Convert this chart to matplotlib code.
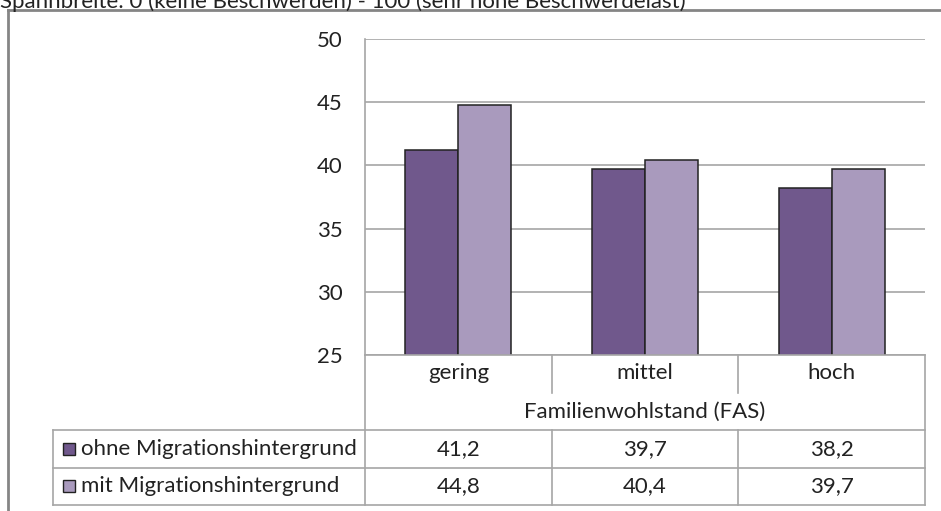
import matplotlib

matplotlib.use("Agg")
import matplotlib.pyplot as plt
import numpy as np

plt.rcParams["font.family"] = ["Lato", "DejaVu Sans"]

# data
categories = ["gering", "mittel", "hoch"]
series_names = ["ohne Migrationshintergrund", "mit Migrationshintergrund"]
ohne = [41.2, 39.7, 38.2]
mit = [44.8, 40.4, 39.7]
yticks = [25, 30, 35, 40, 45, 50]
axis_title = "Familienwohlstand (FAS)"
top_note = "Spannbreite: 0 (keine Beschwerden) - 100 (sehr hohe Beschwerdelast)"

colors = ["#70588c", "#a99abd"]
grid_c = "#a6a6a6"
text_c = "#222222"
fs = 16

W, H = 941, 511
fig = plt.figure(figsize=(W / 100, H / 100), dpi=100)

# plot area in pixel coords (left, top, right, bottom)
pl, pt, pr, pb = 365, 39, 925, 355
ax = fig.add_axes([pl / W, 1 - pb / H, (pr - pl) / W, (pb - pt) / H])

x = np.arange(len(categories))
bw = 0.284
ax.bar(x - bw / 2, ohne, bw, color=colors[0], edgecolor="#222222", linewidth=1.1, zorder=3)
ax.bar(x + bw / 2, mit, bw, color=colors[1], edgecolor="#222222", linewidth=1.1, zorder=3)
ax.set_xlim(-0.5, len(categories) - 0.5)
ax.set_ylim(yticks[0], yticks[-1])
ax.set_yticks(yticks)
ax.set_yticklabels([str(t) for t in yticks], fontsize=fs, color=text_c)
ax.set_xticks([])
ax.tick_params(axis="y", length=0, pad=16)
ax.yaxis.grid(True, color=grid_c, linewidth=1.2)
ax.set_axisbelow(True)
for s in ["top", "right", "bottom"]:
    ax.spines[s].set_visible(False)
ax.spines["left"].set_color(grid_c)
ax.spines["left"].set_linewidth(1.2)

# overlay canvas in pixel coords for the data table and frame
cv = fig.add_axes([0, 0, 1, 1], zorder=2)
cv.set_xlim(0, W)
cv.set_ylim(H, 0)
cv.axis("off")
cv.patch.set_alpha(0)

# outer chart frame (note above it is cut by the image edge, as in the source)
cv.plot([8, W], [10, 10], color="#858585", lw=2)
cv.plot([8, 8], [10, H], color="#858585", lw=2)
cv.text(0, 8, top_note, fontsize=16, color=text_c, va="baseline", ha="left")

# table lines
col_w = (pr - pl) / len(categories)
col_edges = [pl + i * col_w for i in range(len(categories) + 1)]
lw = 1.2
leg_l = 53
row_tops = [430, 468, 505]
cv.plot([pl, pr], [pb, pb], color=grid_c, lw=lw)
cv.plot([pl, pl], [pb, row_tops[-1]], color=grid_c, lw=lw)
cv.plot([pr, pr], [pb, row_tops[-1]], color=grid_c, lw=lw)
for xe in col_edges[1:-1]:
    cv.plot([xe, xe], [pb, 393], color=grid_c, lw=lw)
    cv.plot([xe, xe], [row_tops[0], row_tops[-1]], color=grid_c, lw=lw)
for yr in row_tops:
    cv.plot([leg_l, pr], [yr, yr], color=grid_c, lw=lw)
cv.plot([leg_l, leg_l], [row_tops[0], row_tops[-1]], color=grid_c, lw=lw)

# category labels and axis title
for i, c in enumerate(categories):
    cv.text(col_edges[i] + col_w / 2, 373, c, fontsize=fs, color=text_c,
            ha="center", va="center")
cv.text((pl + pr) / 2, 412, axis_title, fontsize=fs, color=text_c,
        ha="center", va="center")

# table rows with legend keys
for r, (name, vals) in enumerate(zip(series_names, [ohne, mit])):
    yc = (row_tops[r] + row_tops[r + 1]) / 2
    cv.add_patch(plt.Rectangle((63, yc - 6), 12, 12, facecolor=colors[r],
                               edgecolor="#222222", lw=1.0))
    cv.text(81, yc, name, fontsize=fs, color=text_c, ha="left", va="center")
    for i, v in enumerate(vals):
        cv.text(col_edges[i] + col_w / 2, yc, f"{v:.1f}".replace(".", ","),
                fontsize=fs, color=text_c, ha="center", va="center")

fig.savefig("out.png", dpi=100, facecolor="white")
